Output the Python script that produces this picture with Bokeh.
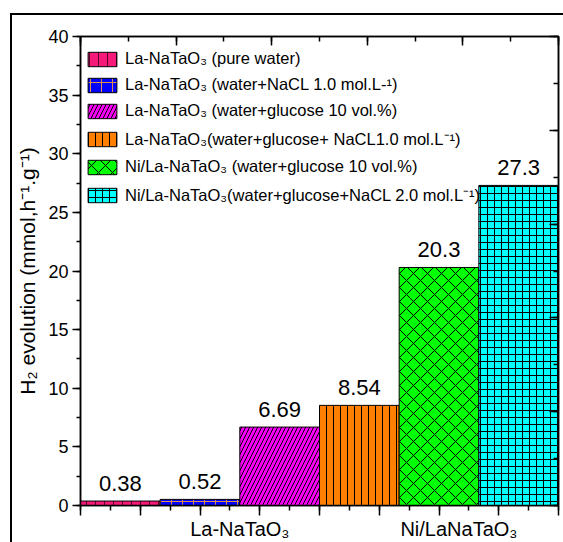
from bokeh.plotting import figure
from bokeh.models import (ColumnDataSource, LinearAxis, SingleIntervalTicker,
                          FixedTicker, CustomJSTickFormatter, Range1d)
from bokeh.embed import file_html
from bokeh.resources import INLINE
from bokeh.core.properties import value

# Photocatalytic H2 evolution for each sample / medium
series = [
    "La-NaTaO\u2083 (pure water)",
    "La-NaTaO\u2083 (water+NaCL 1.0 mol.L-\u00b9)",
    "La-NaTaO\u2083 (water+glucose 10 vol.%)",
    "La-NaTaO\u2083(water+glucose+ NaCL1.0 mol.L\u207b\u00b9)",
    "Ni/La-NaTaO\u2083 (water+glucose 10 vol.%)",
    "Ni/La-NaTaO\u2083(water+glucose+NaCL 2.0 mol.L\u207b\u00b9)",
]
h2_rates = [0.38, 0.52, 6.69, 8.54, 20.3, 27.3]

# catalyst groups along the x axis and where their names sit
groups = ["La-NaTaO\u2083", "Ni/LaNaTaO\u2083"]
group_ticks = [2.0, 4.75]

# bar styling
fill_colors = ["#F51A7A", "#0000FF", "#FF00FF", "#FF8000", "#00FF00", "#00FFFF"]
hatch_patterns = ["|", "+", "/", "|", "x", "+"]
hatch_colors = ["#5A0028", "#E0904A", "#000000", "#000000", "#000000", "#000000"]
hatch_scales = [9, 11, 8, 7, 14, 7]

FONT = "Liberation Sans"

n = len(h2_rates)
source = ColumnDataSource(dict(
    x=[i + 0.5 for i in range(n)],
    top=h2_rates,
    label=series,
    fill=fill_colors,
    hatch=hatch_patterns,
    hatch_color=hatch_colors,
    hatch_scale=hatch_scales,
    text=[str(v) for v in h2_rates],
))

p = figure(width=563, height=542, output_backend="svg", toolbar_location=None,
           x_range=Range1d(0, n), y_range=Range1d(0, 40),
           min_border_left=80, min_border_right=5,
           min_border_top=36, min_border_bottom=37,
           background_fill_color="white", border_fill_alpha=0)

# thin outer border line around the whole figure (left and top edges show)
p.styles = {
    "background": ("linear-gradient(#000, #000) 10px 13px / 2px 100% no-repeat, "
                   "linear-gradient(#000, #000) 10px 13px / 100% 2px no-repeat, #fff"),
}

p.vbar(x="x", top="top", width=1, bottom=0, source=source,
       fill_color="fill", line_color="black", line_width=1,
       hatch_pattern="hatch", hatch_color="hatch_color",
       hatch_scale="hatch_scale", hatch_weight=1,
       legend_field="label")

p.text(x="x", y="top", text="text", source=source,
       text_align="center", text_baseline="alphabetic", y_offset=-18,
       text_font=value(FONT), text_font_size="22px", text_color="black")

# frame and grids
p.xgrid.grid_line_color = None
p.ygrid.grid_line_color = None
p.outline_line_color = "black"
p.outline_line_width = 1.5

blank = CustomJSTickFormatter(code="return ''")

# bottom axis: tick marks only
xa = p.xaxis[0]
xa.ticker = SingleIntervalTicker(interval=0.75, num_minor_ticks=2)
xa.formatter = blank
xa.major_label_text_font_size = "1px"
xa.major_label_standoff = 0
xa.major_tick_out = 10
xa.major_tick_in = 0
xa.minor_tick_out = 5
xa.minor_tick_in = 0
xa.axis_line_width = 1.5
xa.major_tick_line_width = 1.5
xa.minor_tick_line_width = 1.5

# second bottom axis carrying the catalyst group names
gaxis = LinearAxis(ticker=FixedTicker(ticks=group_ticks, minor_ticks=[]),
                   major_label_overrides={t: g for t, g in zip(group_ticks, groups)},
                   axis_line_color=None, major_tick_line_color=None,
                   minor_tick_line_color=None, major_tick_out=0, major_tick_in=0,
                   major_label_standoff=2,
                   major_label_text_font=FONT, major_label_text_font_size="20px",
                   major_label_text_color="black")
p.add_layout(gaxis, "below")

ya = p.yaxis[0]
ya.ticker = SingleIntervalTicker(interval=5, num_minor_ticks=2)
ya.major_tick_out = 8
ya.major_tick_in = 0
ya.minor_tick_out = 4
ya.minor_tick_in = 0
ya.axis_line_width = 1.5
ya.major_tick_line_width = 1.5
ya.minor_tick_line_width = 1.5
ya.major_label_text_font = FONT
ya.major_label_text_font_size = "18px"
ya.major_label_text_color = "black"
ya.major_label_standoff = 4
ya.axis_label = "H\u2082 evolution (mmol,h\u207b\u00b9.g\u207b\u00b9)"
ya.axis_label_text_font = FONT
ya.axis_label_text_font_size = "21px"
ya.axis_label_text_font_style = "normal"
ya.axis_label_text_color = "black"
ya.axis_label_standoff = 6

# mirrored axes with inward ticks
right = LinearAxis(ticker=SingleIntervalTicker(interval=8, num_minor_ticks=2),
                   formatter=blank,
                   major_tick_in=9, major_tick_out=0, minor_tick_in=5, minor_tick_out=0,
                   major_label_text_font_size="1px", major_label_standoff=0,
                   axis_line_width=1.5, major_tick_line_width=1.5,
                   minor_tick_line_width=1.5)
p.add_layout(right, "right")
top = LinearAxis(ticker=SingleIntervalTicker(interval=1.2, num_minor_ticks=2),
                 formatter=blank,
                 major_tick_in=9, major_tick_out=0, minor_tick_in=5, minor_tick_out=0,
                 major_label_text_font_size="1px", major_label_standoff=0,
                 axis_line_width=1.5, major_tick_line_width=1.5,
                 minor_tick_line_width=1.5)
p.add_layout(top, "above")

lg = p.legend[0]
lg.location = (4, 299)
lg.margin = 0
lg.padding = 0
lg.spacing = 7
lg.glyph_width = 36
lg.glyph_height = 18
lg.label_height = 18
lg.label_standoff = 5
lg.label_text_font = FONT
lg.label_text_font_size = "16.5px"
lg.label_text_color = "black"
lg.background_fill_alpha = 0
lg.border_line_alpha = 0

open("out.html", "w").write(file_html(p, INLINE))
